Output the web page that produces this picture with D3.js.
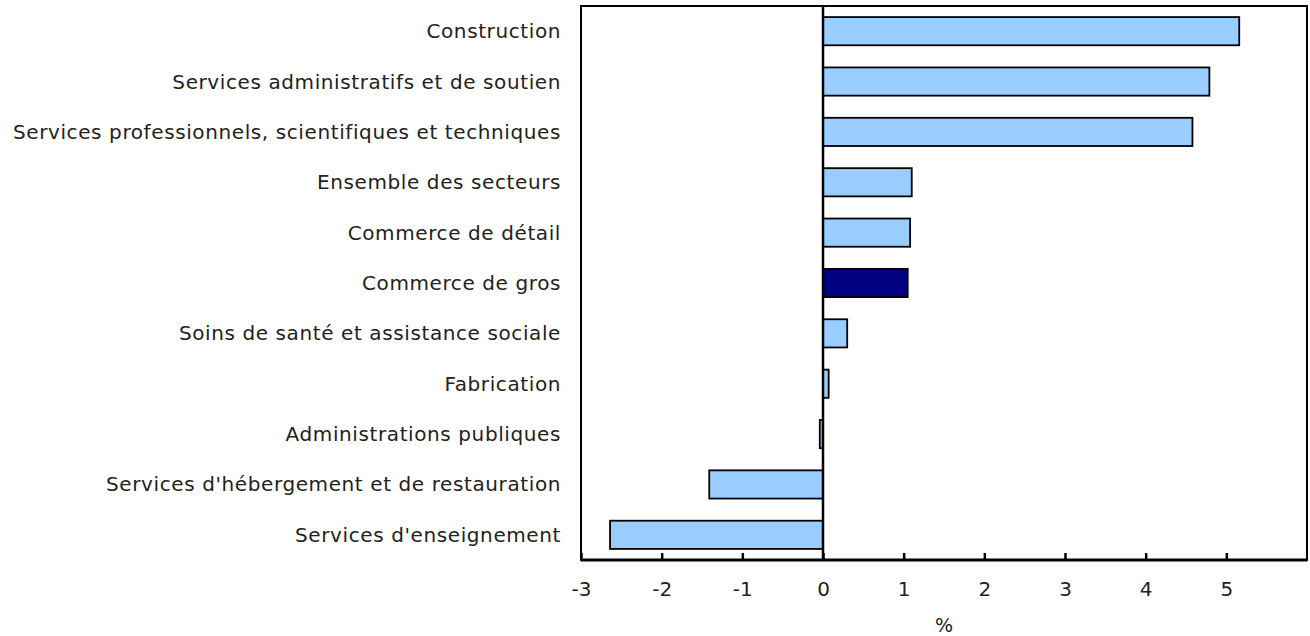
<!DOCTYPE html>
<html>
<head>
<meta charset="utf-8">
<script src="https://cdn.jsdelivr.net/npm/d3@7"></script>
<style>
  body { margin: 0; background: #fff; }
  text { font-family: "DejaVu Sans", Verdana, sans-serif; fill: #222; }
</style>
</head>
<body>
<svg id="chart" width="1310" height="636"></svg>
<script>
// industries, top to bottom
const categories = [
  "Construction",
  "Services administratifs et de soutien",
  "Services professionnels, scientifiques et techniques",
  "Ensemble des secteurs",
  "Commerce de détail",
  "Commerce de gros",
  "Soins de santé et assistance sociale",
  "Fabrication",
  "Administrations publiques",
  "Services d'hébergement et de restauration",
  "Services d'enseignement"
];
const values = [5.16, 4.79, 4.58, 1.10, 1.08, 1.05, 0.30, 0.07, -0.04, -1.41, -2.64];
const highlighted = "Commerce de gros";
const xTicks = [-3, -2, -1, 0, 1, 2, 3, 4, 5];
const xTitle = "%";

const margin = {top: 6, right: 3, bottom: 76, left: 581};
const svg = d3.select('#chart');
const width = 1310 - margin.left - margin.right;
const height = 636 - margin.top - margin.bottom;
const g = svg.append('g').attr('transform', `translate(${margin.left},${margin.top})`);

const x = d3.scaleLinear().domain([-3, 6]).range([0, width]);
const y = d3.scaleBand()
  .domain(categories)
  .range([0, height])
  .paddingInner(0.44)
  .paddingOuter(0.22);

const data = categories.map((c, i) => ({cat: c, value: values[i]}));

g.selectAll('rect.bar')
  .data(data)
  .enter().append('rect')
  .attr('class', 'bar')
  .attr('x', d => x(Math.min(0, d.value)))
  .attr('y', d => y(d.cat))
  .attr('width', d => Math.abs(x(d.value) - x(0)))
  .attr('height', y.bandwidth())
  .attr('fill', d => d.cat === highlighted ? '#000080' : '#99ccff')
  .attr('stroke', '#000')
  .attr('stroke-width', 1.8);

// zero line
g.append('line')
  .attr('x1', x(0)).attr('x2', x(0))
  .attr('y1', 0).attr('y2', height)
  .attr('stroke', '#000')
  .attr('stroke-width', 2.5);

// frame
g.append('rect')
  .attr('x', 0).attr('y', 0)
  .attr('width', width).attr('height', height)
  .attr('fill', 'none')
  .attr('stroke', '#000')
  .attr('stroke-width', 2);

const xAxis = d3.axisBottom(x)
  .tickValues(xTicks)
  .tickFormat(d => String(d))
  .tickSize(-7)
  .tickPadding(22);

const ax = g.append('g')
  .attr('transform', `translate(0,${height})`)
  .call(xAxis);
ax.select('.domain').remove();
ax.selectAll('.tick line').attr('stroke', '#000').attr('stroke-width', 2.5);
ax.selectAll('.tick text').style('font-size', '20px').attr('fill', '#222');
ax.append('line')
  .attr('x1', 0).attr('x2', width)
  .attr('stroke', '#000').attr('stroke-width', 3);

// category labels
g.selectAll('text.cat')
  .data(categories)
  .enter().append('text')
  .attr('class', 'cat')
  .attr('x', -20)
  .attr('y', d => y(d) + y.bandwidth() / 2)
  .attr('dy', '0.35em')
  .attr('text-anchor', 'end')
  .style('font-size', '20px')
  .style('letter-spacing', '0.6px')
  .text(d => d);

g.append('text')
  .attr('x', width / 2)
  .attr('y', height + 72)
  .attr('text-anchor', 'middle')
  .style('font-size', '19px')
  .text(xTitle);
</script>
</body>
</html>
